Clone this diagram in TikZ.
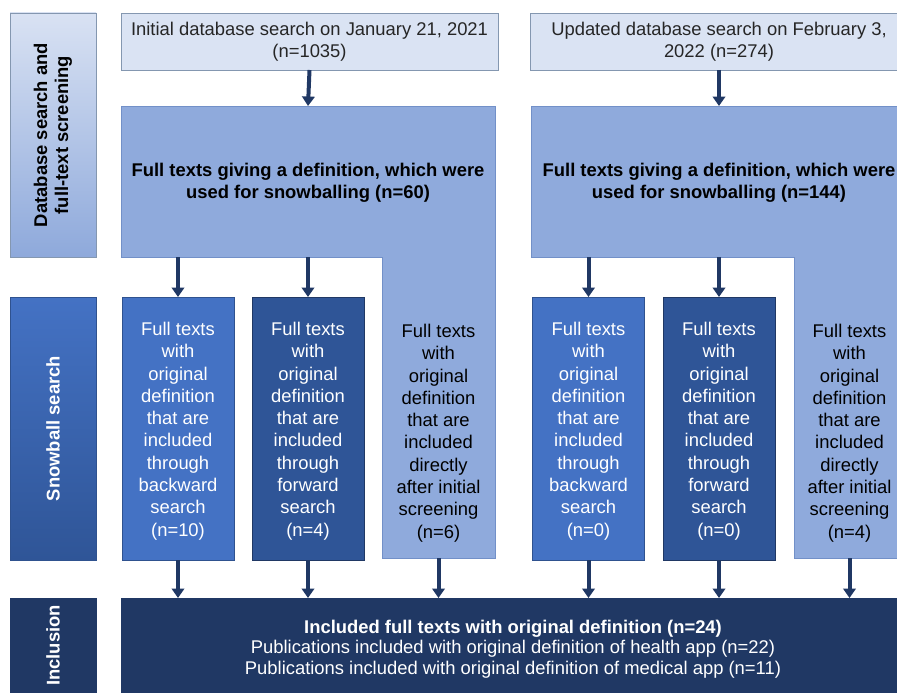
\documentclass[tikz,border=0pt]{standalone}
\usepackage{fontspec}
\setmainfont{Liberation Sans}
\usetikzlibrary{arrows.meta}
\definecolor{topfill}{HTML}{DAE3F3}
\definecolor{topdraw}{HTML}{8497B0}
\definecolor{lfill}{HTML}{8FAADC}
\definecolor{ldraw}{HTML}{7290C8}
\definecolor{bfill}{HTML}{4472C4}
\definecolor{bdraw}{HTML}{2F528F}
\definecolor{ffill}{HTML}{2F5597}
\definecolor{navy}{HTML}{203864}
\definecolor{txt}{HTML}{262626}
\definecolor{labtop}{HTML}{D9E2F3}
\definecolor{labbot}{HTML}{8EA9DB}
\tikzset{
  base/.style={inner sep=0pt, outer sep=0pt, line width=0.8pt, align=center,
    font=\fontsize{18.4}{22.3}\selectfont},
  topbox/.style={base, fill=topfill, draw=topdraw, text=txt,
    minimum height=57pt, minimum width=377pt},
  sbox/.style={base, minimum width=112pt, minimum height=263pt},
  backbox/.style={sbox, fill=bfill, draw=bdraw, text=white},
  fwdbox/.style={sbox, fill=ffill, draw=navy, text=white},
  lshape/.style={fill=lfill, draw=ldraw, line width=0.8pt},
  plain/.style={base, text=black},
  labbox/.style={base, minimum width=86pt, draw=topdraw},
  labtext/.style={base, rotate=90, font=\fontsize{18.4}{21}\selectfont\bfseries},
  arr/.style={draw=navy, line width=4pt, -{Triangle[width=12.5pt,length=9.5pt]}},
}
\begin{document}
\begin{tikzpicture}[x=1pt,y=-1pt]
\useasboundingbox (0,0) rectangle (897,693);
\clip (0,0) rectangle (897,693);
\fill[white] (0,0) rectangle (897,693);

% left labels
\node[labbox, minimum height=244pt, top color=labtop, bottom color=labbot] (lab1) at (53,135) {};
\node[labtext, text=black] (lab1t) at (lab1.center) {Database search and\\full-text screening};
\node[labbox, minimum height=263pt, top color=bfill, bottom color=ffill, draw=bdraw] (lab2) at (53,428.5) {};
\node[labtext, text=white] (lab2t) at (lab2.center) {Snowball search};
\node[labbox, minimum height=95pt, fill=navy, draw=navy] (lab3) at (53,645.5) {};
\node[labtext, text=white] (lab3t) at (lab3.center) {Inclusion};

% top boxes
\node[topbox] (init) at (309.5,41.5) {Initial database search on January 21, 2021\\(n=1035)};
\node[topbox] (upd) at (719,41.5) {Updated database search on February 3,\\2022 (n=274)};

% L shapes
\path[lshape] (121,106) -- (495,106) -- (495,558) -- (382,558) -- (382,257) -- (121,257) -- cycle;
\path[lshape] (531,106) -- (905,106) -- (905,558) -- (794,558) -- (794,257) -- (531,257) -- cycle;
\coordinate (L1top) at (308,106);
\coordinate (L2top) at (719,106);
\coordinate (L1a) at (178,257);
\coordinate (L1b) at (308,257);
\coordinate (L2a) at (588.5,257);
\coordinate (L2b) at (719,257);
\coordinate (L1c) at (438.5,558);
\coordinate (L2c) at (849.5,558);

\node[plain, font=\fontsize{18.4}{22.3}\selectfont\bfseries] (L1t) at (308,183)
  {Full texts giving a definition, which were\\used for snowballing (n=60)};
\node[plain, font=\fontsize{18.4}{22.3}\selectfont\bfseries] (L2t) at (719,183)
  {Full texts giving a definition, which were\\used for snowballing (n=144)};

\node[plain] (L1low) at (438.5,433)
  {Full texts\\with\\original\\definition\\that are\\included\\directly\\after initial\\screening\\(n=6)};
\node[plain] (L2low) at (849.5,433)
  {Full texts\\with\\original\\definition\\that are\\included\\directly\\after initial\\screening\\(n=4)};

% snowball boxes
\node[backbox] (A) at (178,428.5) {};
\node[plain, text=white] (At) at (178,431)
  {Full texts\\with\\original\\definition\\that are\\included\\through\\backward\\search\\(n=10)};
\node[fwdbox] (B) at (308,428.5) {};
\node[plain, text=white] (Bt) at (308,431)
  {Full texts\\with\\original\\definition\\that are\\included\\through\\forward\\search\\(n=4)};
\node[backbox] (C) at (588.5,428.5) {};
\node[plain, text=white] (Ct) at (588.5,431)
  {Full texts\\with\\original\\definition\\that are\\included\\through\\backward\\search\\(n=0)};
\node[fwdbox] (D) at (719,428.5) {};
\node[plain, text=white] (Dt) at (719,431)
  {Full texts\\with\\original\\definition\\that are\\included\\through\\forward\\search\\(n=0)};

% inclusion box
\node[base, fill=navy, draw=navy, minimum width=784pt, minimum height=94pt] (incl) at (513,645) {};
\node[base, text=white, font=\fontsize{18.4}{20.7}\selectfont] (inclt) at (513,649)
  {\textbf{Included full texts with original definition (n=24)}\\
   Publications included with original definition of health app (n=22)\\
   Publications included with original definition of medical app (n=11)};

% arrows
\draw[arr] (init.south) -- (L1top);
\draw[arr] (upd.south) -- (L2top);
\draw[arr] (L1a) -- (A.north);
\draw[arr] (L1b) -- (B.north);
\draw[arr] (L2a) -- (C.north);
\draw[arr] (L2b) -- (D.north);
\draw[arr] (A.south) -- (A.south |- incl.north);
\draw[arr] (B.south) -- (B.south |- incl.north);
\draw[arr] (L1c) -- (L1c |- incl.north);
\draw[arr] (C.south) -- (C.south |- incl.north);
\draw[arr] (D.south) -- (D.south |- incl.north);
\draw[arr] (L2c) -- (L2c |- incl.north);
\end{tikzpicture}
\end{document}
